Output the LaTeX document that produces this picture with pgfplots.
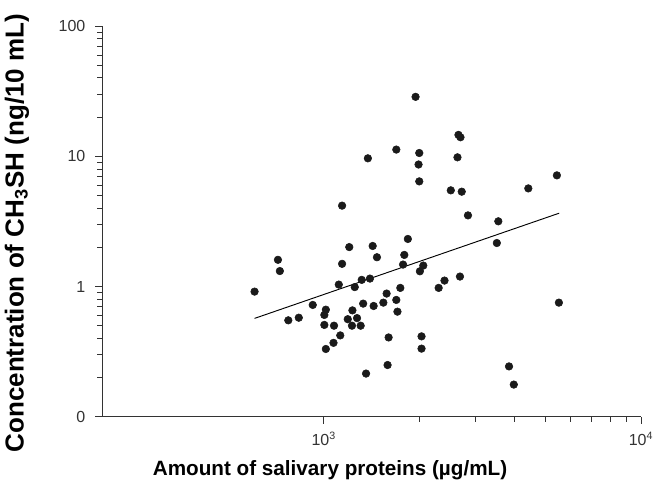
\documentclass[border=0pt]{standalone}
\usepackage{pgfplots}
\pgfplotsset{compat=1.18}
\usepackage{fontspec}
\setmainfont{Liberation Sans}
\definecolor{axgray}{HTML}{333333}
\definecolor{dotc}{HTML}{1A1A1A}
\begin{document}
\begin{tikzpicture}
\begin{axis}[
  scale only axis,
  width=404pt, height=293pt,
  xmode=log, ymode=log,
  xmin=200, xmax=10000,
  ymin=0.1, ymax=100,
  axis x line*=bottom, axis y line*=left,
  axis line style={axgray, line width=0.7pt},
  every tick/.style={axgray, line width=0.6pt},
  tick align=outside,
  major tick length=5pt, minor tick length=3.5pt,
  xtick={1000,10000},
  xticklabels={10\textsuperscript{3},10\textsuperscript{4}},
  ytick={0.1,1,10,100},
  yticklabels={0,1,10,100},
  tick label style={font=\fontsize{12}{14}\selectfont, text=axgray},
  yticklabel style={xshift=-4pt},
  xticklabel style={yshift=-3pt},
  xlabel={Amount of salivary proteins (\textmu g/mL)},
  ylabel={Concentration of CH\textsubscript{3}SH (ng/10 mL)},
  xlabel style={font=\fontsize{15.5}{18}\selectfont\bfseries, at={(axis description cs:0.423,-0.137)}, anchor=center},
  ylabel style={font=\fontsize{19.5}{22}\selectfont\bfseries, at={(axis description cs:-0.158,0.47)}, anchor=center},
  clip=false,
]
\addplot[only marks, mark=*, mark size=2.85pt, dotc] coordinates {
(1142,4.18) (1203,2.01) (1426,2.05) (1471,1.68) (1142,1.495)
(717,1.605) (727,1.316) (605,0.915) (1115,1.036) (1317,1.126)
(1398,1.152) (1252,0.991) (1578,0.884) (923,0.723) (1015,0.665)
(1004,0.606) (773,0.551) (834,0.577) (1004,0.508) (1077,0.501)
(1231,0.657) (1190,0.562) (1273,0.573) (1227,0.501) (1307,0.501)
(1331,0.740) (1436,0.710) (1541,0.753) (1127,0.422) (1073,0.370)
(1015,0.332) (1601,0.407) (1359,0.215) (1589,0.250)
(1947,28.6) (2658,14.6) (2697,14.0) (1693,11.26) (2000,10.6)
(1377,9.65) (2639,9.82) (1990,8.65) (2000,6.42) (2514,5.48)
(2722,5.35) (4413,5.67) (5431,7.14) (2848,3.52) (3550,3.17)
(3512,2.16) (1841,2.32) (1794,1.75) (1778,1.476) (2059,1.45)
(2009,1.311) (1743,0.977) (1693,0.790) (1707,0.642) (2302,0.977)
(2402,1.112) (2687,1.194) (5510,0.753) (2033,0.415) (2033,0.334)
(3837,0.244) (3973,0.177)
};
\addplot[black, line width=0.7pt] coordinates {(605,0.570) (5522,3.66)};
\end{axis}
\pgfresetboundingbox
\path ([shift={(-76.5pt,-60.75pt)}]current axis.south west) rectangle ([shift={(11.25pt,19.5pt)}]current axis.north east);
\end{tikzpicture}
\end{document}
